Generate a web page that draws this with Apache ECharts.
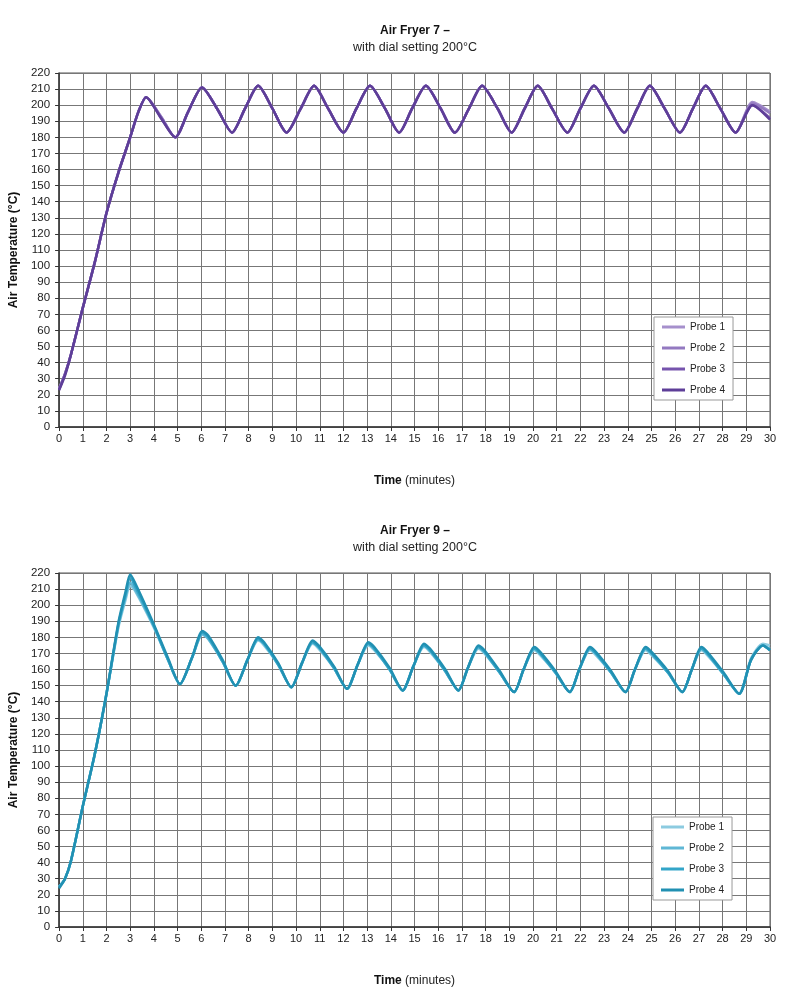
<!DOCTYPE html>
<html>
<head>
<meta charset="utf-8">
<script src="https://cdn.jsdelivr.net/npm/echarts@6/dist/echarts.min.js"></script>
<style>
html,body{margin:0;padding:0;background:#fff;}
#chart{width:800px;height:1000px;}
</style>
</head>
<body>
<div id="chart"></div>
<script>
// ---------- Data ----------
const probeNames = ['Probe 1', 'Probe 2', 'Probe 3', 'Probe 4'];
const xTicks = [0, 30, 1];   // min, max, interval (minutes)
const yTicks = [0, 220, 10]; // min, max, interval (°C)

// Air Fryer 7
const times7 = [0, 0.25, 0.5, 1, 1.5, 2, 2.5, 3, 3.35, 3.67, 4.3, 4.9, 5.45, 6.03, 6.7, 7.3, 7.85, 8.4, 9.0, 9.6, 10.2, 10.76, 11.35, 12.0, 12.55, 13.12, 13.75, 14.35, 14.9, 15.48, 16.1, 16.7, 17.3, 17.85, 18.5, 19.1, 19.65, 20.2, 20.8, 21.45, 22.0, 22.57, 23.2, 23.85, 24.4, 24.93, 25.55, 26.2, 26.75, 27.29, 27.9, 28.55, 29.26, 30];
const af7Probe1 = [24, 33, 45, 74, 102, 133, 158, 180, 196, 205, 193, 180, 196, 211, 197, 183, 198, 212, 198, 183, 198, 212, 198, 183, 198, 212, 198, 183, 198, 212, 198, 183, 198, 212, 198, 183, 198, 212, 198, 183, 198, 212, 198, 183, 198, 212, 198, 183, 198, 212, 198, 183, 202, 196];
const af7Probe2 = [24, 33, 45, 74, 102, 133, 158, 180, 196, 205, 193, 180, 196, 211, 197, 183, 198, 212, 198, 183, 198, 212, 198, 183, 198, 212, 198, 183, 198, 212, 198, 183, 198, 212, 198, 183, 198, 212, 198, 183, 198, 212, 198, 183, 198, 212, 198, 183, 198, 212, 198, 183, 201, 195];
const af7Probe3 = [23, 33, 45, 74, 102, 133, 158, 180, 196, 205, 192, 180, 196, 211, 197, 183, 198, 212, 198, 183, 198, 212, 198, 183, 198, 212, 198, 183, 198, 212, 198, 183, 198, 212, 198, 183, 198, 212, 198, 183, 198, 212, 198, 183, 198, 212, 198, 183, 198, 212, 198, 183, 200, 192];
const af7Probe4 = [23, 32, 45, 74, 102, 133, 158, 180, 196, 205, 192, 180, 196, 211, 197, 183, 198, 212, 198, 183, 198, 212, 198, 183, 198, 212, 198, 183, 198, 212, 198, 183, 198, 212, 198, 183, 198, 212, 198, 183, 198, 212, 198, 183, 198, 212, 198, 183, 198, 212, 198, 183, 200, 191];

// Air Fryer 9
const times9 = [0, 0.25, 0.5, 1, 1.5, 2, 2.5, 2.8, 3.0, 3.2, 4.0, 4.6, 5.1, 5.6, 6.05, 6.3, 6.9, 7.45, 7.95, 8.4, 8.65, 9.25, 9.8, 10.25, 10.7, 10.95, 11.6, 12.15, 12.6, 13.05, 13.3, 13.95, 14.5, 14.95, 15.4, 15.65, 16.3, 16.85, 17.25, 17.7, 17.95, 18.6, 19.2, 19.6, 20.05, 20.3, 20.95, 21.55, 21.95, 22.4, 22.65, 23.3, 23.9, 24.3, 24.75, 25.0, 25.7, 26.3, 26.7, 27.1, 27.35, 28.05, 28.7, 29.2, 29.7, 30];
const af9Probe1 = [25, 30, 41, 75, 107, 145, 186, 203, 212, 209, 186, 166, 151, 167, 182, 179, 165, 150, 166, 178, 175, 163, 149, 164, 176, 173, 161, 148, 163, 175, 172, 160, 147, 162, 174, 171, 159, 147, 161, 173, 170, 158, 146, 160, 172, 169, 158, 146, 160, 172, 169, 158, 146, 160, 172, 169, 158, 146, 160, 172, 169, 157, 145, 167, 176, 175];
const af9Probe2 = [25, 30, 41, 75, 107, 145, 187, 205, 214, 210, 187, 166, 151, 167, 182, 179, 165, 150, 166, 179, 176, 163, 149, 164, 177, 174, 161, 148, 163, 176, 173, 160, 147, 162, 175, 172, 159, 147, 161, 174, 171, 158, 146, 160, 173, 170, 158, 146, 160, 173, 170, 158, 146, 160, 173, 170, 158, 146, 160, 173, 170, 157, 145, 166, 175, 173];
const af9Probe3 = [25, 30, 41, 75, 107, 145, 188, 206, 217, 212, 187, 166, 151, 167, 183, 180, 165, 150, 166, 179, 176, 163, 149, 164, 177, 174, 161, 148, 163, 176, 173, 160, 147, 162, 175, 172, 159, 147, 161, 174, 171, 158, 146, 160, 173, 170, 158, 146, 160, 173, 170, 158, 146, 160, 173, 170, 158, 146, 160, 173, 170, 157, 145, 166, 175, 172];
const af9Probe4 = [24, 30, 41, 75, 107, 145, 189, 208, 219, 214, 188, 167, 151, 167, 184, 181, 166, 150, 166, 180, 177, 164, 149, 164, 178, 175, 162, 148, 163, 177, 174, 161, 147, 162, 176, 173, 160, 147, 161, 175, 172, 159, 146, 160, 174, 171, 159, 146, 160, 174, 171, 159, 146, 160, 174, 171, 159, 146, 160, 174, 171, 158, 145, 166, 175, 172];

const colors7 = ['#a690cc', '#9379c0', '#7654ad', '#5e3e98'];
const colors9 = ['#8ccbe0', '#5fb7d5', '#33a5c8', '#2190b2'];

// ---------- Chart ----------
const FONT = '"Liberation Sans", Arial, sans-serif';
const chart = echarts.init(document.getElementById('chart'), null, {renderer: 'canvas'});

const grids = [
  {left: 58, top: 73, width: 712, height: 354},
  {left: 58, top: 573, width: 712, height: 354}
];

function xAxisCfg(gi) {
  return {
    type: 'value', gridIndex: gi, min: xTicks[0], max: xTicks[1], interval: xTicks[2],
    name: '{b|Time} (minutes)', nameLocation: 'middle', nameGap: 48,
    nameTextStyle: {fontFamily: FONT, fontSize: 12, color: '#222', rich: {b: {fontFamily: FONT, fontSize: 12, fontWeight: 'bold', color: '#111'}}},
    axisLine: {show: true, onZero: false, lineStyle: {color: '#333', width: 1.5}},
    axisTick: {show: true, length: 4, lineStyle: {color: '#333'}},
    axisLabel: {fontFamily: FONT, fontSize: 11, color: '#222', margin: 6},
    splitLine: {show: true, lineStyle: {color: '#777', width: 1}}
  };
}
function yAxisCfg(gi) {
  return {
    type: 'value', gridIndex: gi, min: yTicks[0], max: yTicks[1], interval: yTicks[2],
    name: 'Air Temperature (°C)', nameLocation: 'middle', nameGap: 38, nameRotate: 90,
    nameTextStyle: {fontFamily: FONT, fontSize: 12, fontWeight: 'bold', color: '#111'},
    axisLine: {show: true, lineStyle: {color: '#333', width: 1.5}},
    axisTick: {show: true, length: 4, lineStyle: {color: '#333'}},
    axisLabel: {fontFamily: FONT, fontSize: 11.5, color: '#222', margin: 9},
    splitLine: {show: true, lineStyle: {color: '#777', width: 1}}
  };
}

function mkSeries(name, times, vals, color, gi) {
  return {
    name: name, type: 'line', xAxisIndex: gi, yAxisIndex: gi,
    data: times.map((t, i) => [t, vals[i]]),
    showSymbol: false, symbol: 'none', smooth: 0.25,
    lineStyle: {color: color, width: 2.5}, itemStyle: {color: color},
    animation: false
  };
}

const af7 = [af7Probe1, af7Probe2, af7Probe3, af7Probe4];
const af9 = [af9Probe1, af9Probe2, af9Probe3, af9Probe4];
const series = [];
probeNames.forEach((n, i) => series.push(mkSeries(n, times7, af7[i], colors7[i], 0)));
probeNames.forEach((n, i) => series.push(mkSeries('AF9 ' + n, times9, af9[i], colors9[i], 1)));

function legendCfg(left, top, names, fmt) {
  return {
    orient: 'vertical', left: left, top: top, data: names,
    icon: 'rect', itemWidth: 23, itemHeight: 3, itemGap: 11,
    padding: [5, 8, 5, 8],
    borderColor: '#999', borderWidth: 1, backgroundColor: '#fff',
    textStyle: {fontFamily: FONT, fontSize: 10, color: '#222'},
    formatter: fmt, selectedMode: false
  };
}

const titleText = {fontFamily: FONT, fontSize: 12, fontWeight: 'bold', color: '#111'};
const subText = {fontFamily: FONT, fontSize: 12.5, color: '#222'};

chart.setOption({
  animation: false,
  backgroundColor: '#fff',
  title: [
    {text: 'Air Fryer 7 –', subtext: 'with dial setting 200°C', left: 410, top: 20, textAlign: 'center', itemGap: 4,
     textStyle: titleText, subtextStyle: subText},
    {text: 'Air Fryer 9 –', subtext: 'with dial setting 200°C', left: 410, top: 520, textAlign: 'center', itemGap: 4,
     textStyle: titleText, subtextStyle: subText}
  ],
  grid: grids.map(g => Object.assign({show: true, borderColor: '#555', borderWidth: 1, backgroundColor: '#fff'}, g)),
  xAxis: [xAxisCfg(0), xAxisCfg(1)],
  yAxis: [yAxisCfg(0), yAxisCfg(1)],
  legend: [
    legendCfg(654, 317, probeNames, n => n),
    legendCfg(653, 817, probeNames.map(n => 'AF9 ' + n), n => n.replace('AF9 ', ''))
  ],
  series: series
});
</script>
</body>
</html>
